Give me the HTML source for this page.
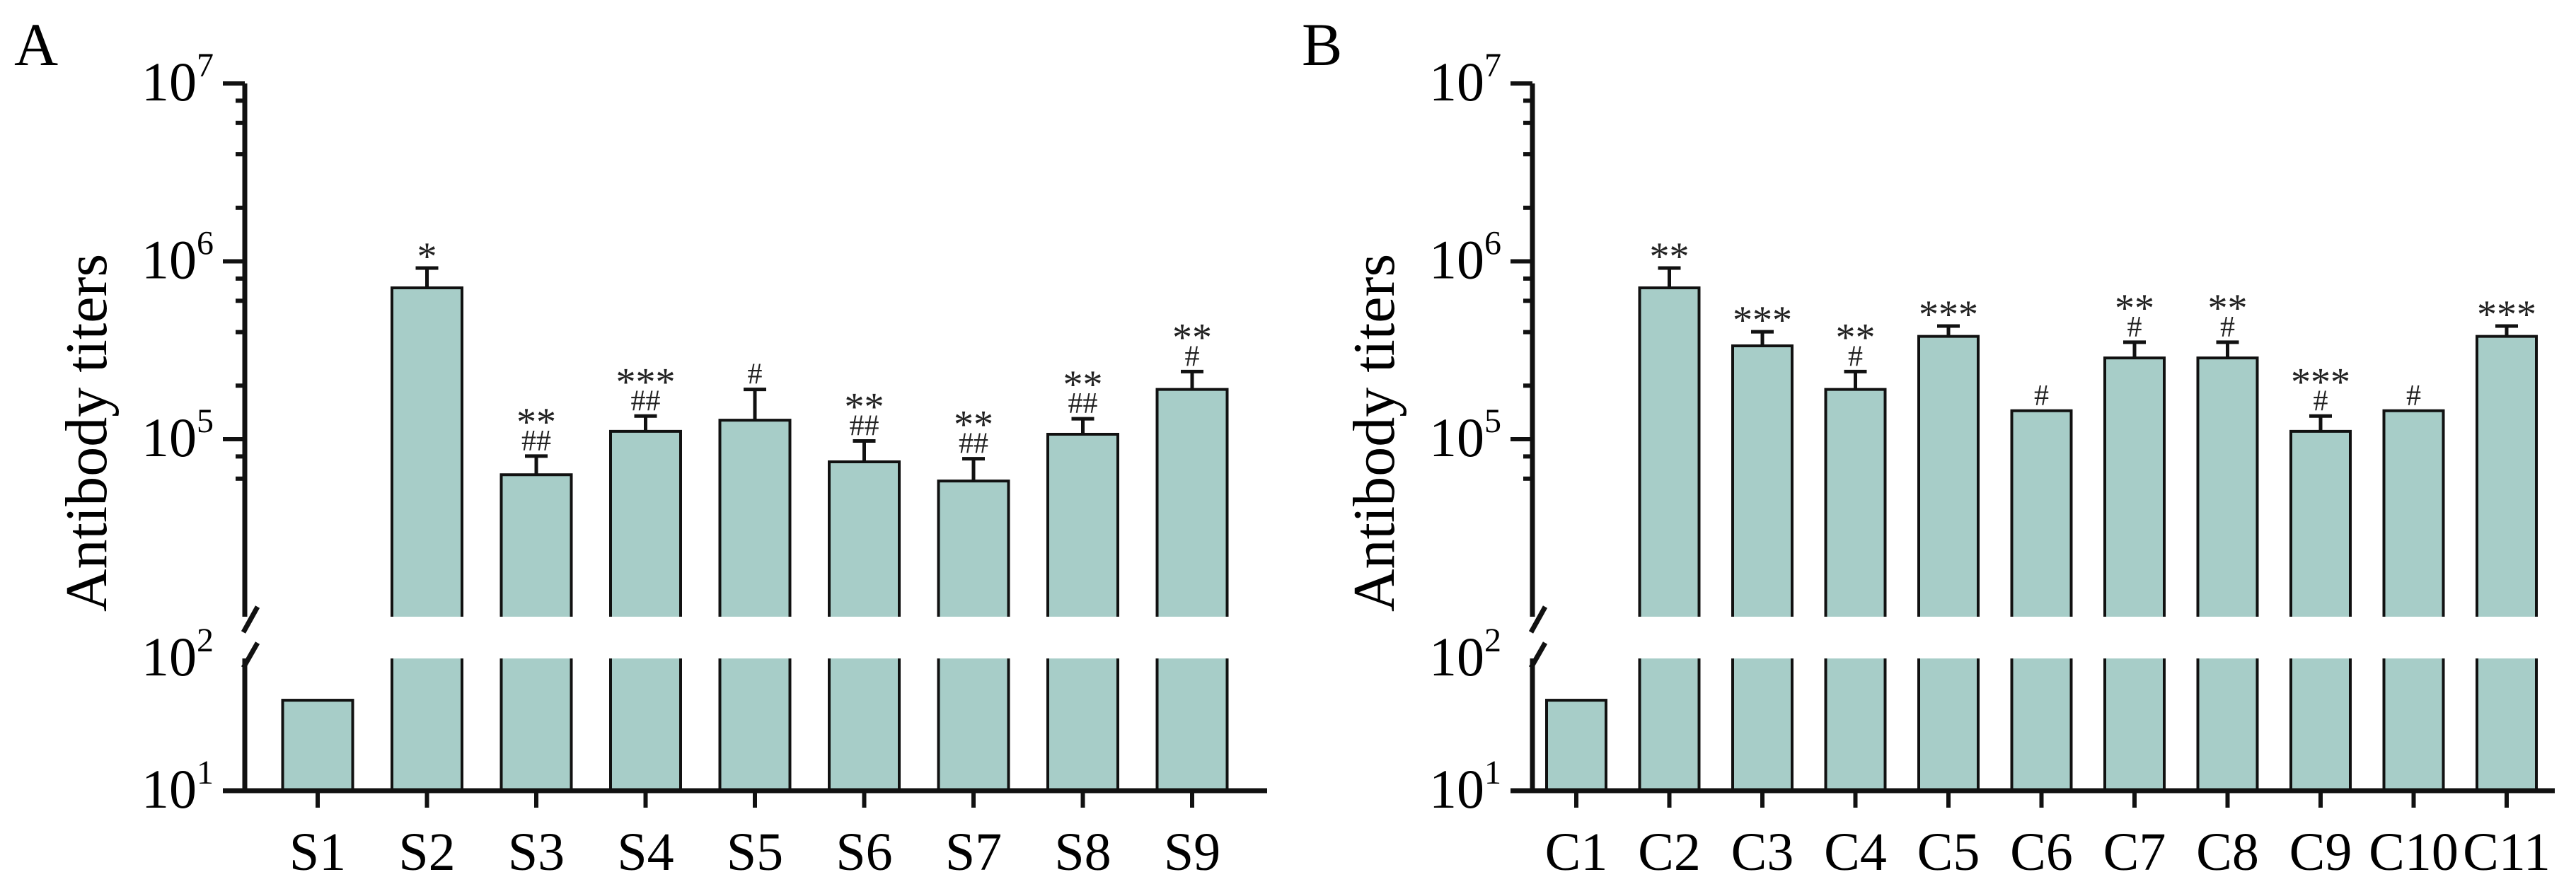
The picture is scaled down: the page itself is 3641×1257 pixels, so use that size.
<!DOCTYPE html>
<html><head><meta charset="utf-8"><style>
html,body{margin:0;padding:0;background:#fff;}
svg, svg text{font-family:"Liberation Serif","Times New Roman",serif;}
svg{display:block;}
</style></head><body>
<svg id="chart" width="3641" height="1257" viewBox="0 0 3641 1257" xmlns="http://www.w3.org/2000/svg" font-family="Liberation Serif, serif">
</svg>
<script>
const catsA = ["S1","S2","S3","S4","S5","S6","S7","S8","S9"];
const logValsA = [1.684,5.851,4.80,5.044,5.107,4.873,4.765,5.028,5.28];
const logErrA = [null,5.962,4.905,5.13,5.28,4.99,4.89,5.115,5.38];
const starsA = ["","*","**","***","","**","**","**","**"];
const hashA = ["","","##","##","#","##","##","##","#"];

const catsB = ["C1","C2","C3","C4","C5","C6","C7","C8","C9","C10","C11"];
const logValsB = [1.684,5.851,5.525,5.28,5.578,5.16,5.457,5.457,5.044,5.16,5.578];
const logErrB = [null,5.962,5.604,5.38,5.636,null,5.545,5.545,5.13,null,5.636];
const starsB = ["","**","***","**","***","","**","**","***","","***"];
const hashB = ["","","","#","","#","#","#","#","#",""];

const NS="http://www.w3.org/2000/svg";
const svg=document.getElementById('chart');
const FF="Liberation Serif, Times New Roman, serif";
function mk(tag,attrs,parent){const e=document.createElementNS(NS,tag);for(const k in attrs)e.setAttribute(k,attrs[k]);if(tag==='text')e.setAttribute('font-family',FF);(parent||svg).appendChild(e);return e;}

const yUpper = l => 621 - (l-5)*251.5;
const yLower = l => 1118 - (l-1)*187;
const UP_BOTTOM=872, LOW_TOP=931, X_AXIS=1118;
const FILL="#a7cdc8";

function panel(ox, letter, cats, vals, errs, stars, hashes, firstCenter, spacing, barW, name){
  const g=mk('g',{});
  
  
  const axX=ox+346;
  const lt=mk('text',{x:ox+20,y:92,'font-size':86,fill:'#000'},g);
  lt.textContent=letter;
  
  
  const yt=mk('text',{x:0,y:0,'font-size':84,fill:'#000','text-anchor':'middle',transform:`translate(${ox+150},${612}) rotate(-90)`},g);
  yt.textContent="Antibody titers";
  
  
  cats.forEach((c,i)=>{
    const cx=ox+firstCenter+i*spacing, x0=cx-barW/2;
    const v=vals[i];
    if(v<2){
      const top=yLower(v);
      const b=mk('rect',{x:x0,y:top,width:barW,height:X_AXIS-top,fill:FILL,stroke:'#111','stroke-width':4},g);
      
      
    } else {
      const top=yUpper(v);
      const b=mk('path',{d:`M${x0},${UP_BOTTOM} L${x0},${top} L${x0+barW},${top} L${x0+barW},${UP_BOTTOM}`,fill:FILL,stroke:'#111','stroke-width':4},g);
      
      
      const lr=mk('rect',{x:x0,y:LOW_TOP,width:barW,height:X_AXIS-LOW_TOP,fill:FILL},g);
      
      
      const b2=mk('path',{d:`M${x0},${LOW_TOP} L${x0},${X_AXIS} M${x0+barW},${X_AXIS} L${x0+barW},${LOW_TOP}`,fill:'none',stroke:'#111','stroke-width':4},g);
      
      
      let annTop=top;
      if(errs[i]!==null){
        const ey=yUpper(errs[i]);
        const e=mk('path',{d:`M${cx},${top} L${cx},${ey} M${cx-16},${ey} L${cx+16},${ey}`,stroke:'#111','stroke-width':5,fill:'none'},g);
        
        
        annTop=ey;
      }
      let y=annTop-8;
      if(hashes[i]){
        const h=mk('text',{x:cx,y:y,'font-size':42,'text-anchor':'middle',fill:'#222'},g);
        h.textContent=hashes[i];
        
        
        y-=44;
      } else {
        y-=12;
      }
      if(stars[i]){
        const s=mk('text',{x:cx,y:y+22,'font-size':56,'text-anchor':'middle',fill:'#222'},g);
        s.textContent=stars[i];
        
        
      }
    }
    const t=mk('line',{x1:cx,y1:X_AXIS,x2:cx,y2:1142,stroke:'#111','stroke-width':6},g);
    
    
    const lb=mk('text',{x:cx,y:1230,'font-size':76,'text-anchor':'middle',fill:'#000'},g);
    lb.textContent=c;
    
    
  });
  const ax=mk('path',{d:`M${axX},118 L${axX},${UP_BOTTOM} M${axX},${LOW_TOP} L${axX},${X_AXIS+3}`,stroke:'#111','stroke-width':7,fill:'none'},g);
  
  
  const xa=mk('line',{x1:ox+315,y1:X_AXIS,x2:ox+1791,y2:X_AXIS,stroke:'#111','stroke-width':7},g);
  
  
  const br=mk('path',{d:`M${axX-2},${894} L${axX+18},${858} M${axX-2},${944} L${axX+18},${909}`,stroke:'#111','stroke-width':7,fill:'none'},g);
  
  
  [7,6,5].forEach(p=>{
    const y=yUpper(p);
    const tk=mk('line',{x1:ox+315,y1:y,x2:axX,y2:y,stroke:'#111','stroke-width':6},g);
    
    
    const tl=mk('text',{x:ox+302,y:y+24,'font-size':78,'text-anchor':'end',fill:'#000'},g);
    tl.innerHTML='10<tspan dy="-34" font-size="48">'+p+'</tspan>';
    
    
  });
  [[2,LOW_TOP],[1,X_AXIS]].forEach(([p,y])=>{
    const tl=mk('text',{x:ox+302,y:y+24,'font-size':78,'text-anchor':'end',fill:'#000'},g);
    tl.innerHTML='10<tspan dy="-34" font-size="48">'+p+'</tspan>';
    
    
  });
  [5,6].forEach(d=>{[2,4,6,8].forEach(m=>{
    const y=yUpper(d+Math.log10(m));
    mk('line',{x1:ox+333,y1:y,x2:axX,y2:y,stroke:'#111','stroke-width':6},g);
  });});
  [6,8].forEach(m=>{
    const y=yUpper(4+Math.log10(m));
    mk('line',{x1:ox+333,y1:y,x2:axX,y2:y,stroke:'#111','stroke-width':6},g);
  });
}
panel(0,"A",catsA,logValsA,logErrA,starsA,hashA,449,154.5,99,"panel-a");
panel(1820,"B",catsB,logValsB,logErrB,starsB,hashB,408,131.5,84,"panel-b");
</script>
</body></html>
